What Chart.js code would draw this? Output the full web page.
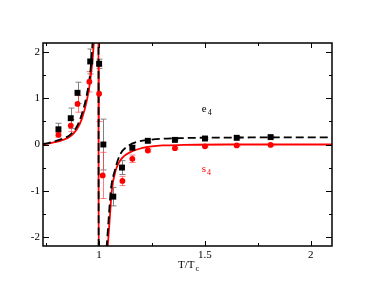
<!DOCTYPE html>
<html lang="en">
<head>
<meta charset="UTF-8">
<title>e4 / s4</title>
<script src="https://cdn.jsdelivr.net/npm/chart.js"></script>
<style>
    body { margin: 0; background: #fff; }
    canvas { display: block; }
</style>
</head>
<body>
<canvas id="chart" width="374" height="289"></canvas>
<script>
// ticks
const xMajor = [1, 1.5, 2];
const xMinor = [0.75, 1.25, 1.75];
const yMajor = [-2, -1, 0, 1, 2];
const yMinor = [-1.5, -0.5, 0.5, 1.5];

// e4 lattice points (black squares)
const e4X   = [0.808, 0.866, 0.898, 0.958, 1.0, 1.02, 1.067, 1.108, 1.157, 1.23, 1.358, 1.5, 1.65, 1.81];
const e4Y   = [0.33, 0.57, 1.12, 1.80, 1.75, 0.0, -1.13, -0.50, -0.07, 0.08, 0.10, 0.13, 0.145, 0.16];
const e4Err = [0.13, 0.22, 0.23, 0.27, 0.1, 0.55, 0.2, 0.15, 0.05, 0.03, 0.02, 0.02, 0.02, 0.02];

// s4 lattice points (red circles)
const s4X   = [0.808, 0.866, 0.898, 0.954, 1.0, 1.017, 1.11, 1.157, 1.23, 1.358, 1.5, 1.65, 1.81];
const s4Y   = [0.21, 0.41, 0.88, 1.36, 1.10, -0.67, -0.79, -0.31, -0.13, -0.08, -0.04, -0.02, -0.01];
const s4Err = [0.05, 0.13, 0.18, 0.22, 0.6, 0.5, 0.1, 0.08, 0.03, 0.02, 0.02, 0.02, 0.02];

// model curves
const e4CurveX = [0.735, 0.76, 0.79, 0.83, 0.863, 0.895, 0.918, 0.942, 0.958, 0.968, 0.975, 0.997, 0.998, 1.024, 1.036, 1.047, 1.055, 1.075, 1.099, 1.138, 1.185, 1.233, 1.3, 1.4, 1.5, 1.7, 1.9, 2.1];
const e4CurveY = [0.01, 0.03, 0.07, 0.13, 0.21, 0.39, 0.65, 1.08, 1.55, 2.13, 2.6, 3, -3, -3, -2.2, -1.49, -1.0, -0.55, -0.22, -0.03, 0.065, 0.10, 0.125, 0.14, 0.148, 0.152, 0.155, 0.155];
const s4CurveX = [0.735, 0.76, 0.79, 0.83, 0.863, 0.895, 0.918, 0.942, 0.958, 0.972, 0.98, 0.997, 0.998, 1.03, 1.041, 1.052, 1.06, 1.079, 1.107, 1.154, 1.201, 1.249, 1.3, 1.4, 1.6, 1.8, 2.1];
const s4CurveY = [0.0, 0.02, 0.05, 0.1, 0.17, 0.33, 0.55, 0.95, 1.38, 2.0, 2.6, 3, -3, -3, -2.2, -1.49, -1.0, -0.55, -0.3, -0.15, -0.08, -0.04, -0.02, -0.01, 0.0, 0.0, 0.0];

const FONT = "'Liberation Serif', 'DejaVu Serif', serif";
const pts = (xs, ys) => xs.map((x, i) => ({ x: x, y: ys[i] }));

// error bars, drawn under the markers
const errorBars = {
    id: "errorBars",
    beforeDatasetsDraw(chart) {
        const { ctx, chartArea, scales: { x, y } } = chart;
        ctx.save();
        ctx.beginPath();
        ctx.rect(chartArea.left, chartArea.top, chartArea.width, chartArea.height);
        ctx.clip();
        const bars = [[e4X, e4Y, e4Err, "#808080"], [s4X, s4Y, s4Err, "rgba(255,70,70,0.7)"]];
        bars.forEach(([xs, ys, es, col]) => {
            ctx.strokeStyle = col;
            ctx.lineWidth = 1;
            xs.forEach((v, i) => {
                const px = Math.round(x.getPixelForValue(v)) + 0.5;
                const top = y.getPixelForValue(ys[i] + es[i]);
                const bot = y.getPixelForValue(ys[i] - es[i]);
                ctx.beginPath();
                ctx.moveTo(px, top); ctx.lineTo(px, bot);
                ctx.moveTo(px - 3, top); ctx.lineTo(px + 3, top);
                ctx.moveTo(px - 3, bot); ctx.lineTo(px + 3, bot);
                ctx.stroke();
            });
        });
        ctx.restore();
    }
};

// frame, inward ticks, axis title and curve labels
const frame = {
    id: "frame",
    afterDraw(chart) {
        const { ctx, chartArea: a, scales: { x, y } } = chart;
        ctx.save();
        ctx.strokeStyle = "#000";
        ctx.lineWidth = 1.5;
        ctx.strokeRect(a.left, a.top, a.width, a.height);
        ctx.lineWidth = 1;
        ctx.beginPath();
        const tx = (v, len) => {
            const p = Math.round(x.getPixelForValue(v)) + 0.5;
            ctx.moveTo(p, a.bottom); ctx.lineTo(p, a.bottom - len);
            ctx.moveTo(p, a.top); ctx.lineTo(p, a.top + len);
        };
        const ty = (v, len) => {
            const p = Math.round(y.getPixelForValue(v)) + 0.5;
            ctx.moveTo(a.left, p); ctx.lineTo(a.left + len, p);
            ctx.moveTo(a.right, p); ctx.lineTo(a.right - len, p);
        };
        xMajor.forEach(v => tx(v, 5));
        xMinor.forEach(v => tx(v, 3));
        yMajor.forEach(v => ty(v, 6));
        yMinor.forEach(v => ty(v, 3));
        ctx.stroke();

        const sub = (main, s, px, py, col) => {
            ctx.fillStyle = col;
            ctx.textBaseline = "alphabetic";
            ctx.textAlign = "left";
            ctx.font = "11px " + FONT;
            ctx.fillText(main, px, py);
            const w = ctx.measureText(main).width;
            ctx.font = "8px " + FONT;
            ctx.fillText(s, px + w + 1, py + 3);
        };
        sub("T/T", "c", 178, 268, "#000");
        sub("e", "4", x.getPixelForValue(1.485), y.getPixelForValue(0.71), "#000");
        sub("s", "4", x.getPixelForValue(1.485), y.getPixelForValue(-0.6), "#ff0000");
        ctx.restore();
    }
};

new Chart(document.getElementById("chart"), {
    type: "scatter",
    data: {
        datasets: [
            {
                label: "e4", data: pts(e4X, e4Y), order: 1,
                pointStyle: "rect", pointRadius: 4.2, pointHoverRadius: 4.2,
                backgroundColor: "#000", borderColor: "#000", borderWidth: 0
            },
            {
                label: "s4", data: pts(s4X, s4Y), order: 2,
                pointStyle: "circle", pointRadius: 2.9, pointHoverRadius: 2.9,
                backgroundColor: "#ff0000", borderColor: "#ff0000", borderWidth: 0
            },
            {
                label: "e4 model", data: pts(e4CurveX, e4CurveY), order: 3,
                showLine: true, pointRadius: 0, borderColor: "#000", borderWidth: 1.8,
                borderDash: [8, 4], cubicInterpolationMode: "monotone"
            },
            {
                label: "s4 model", data: pts(s4CurveX, s4CurveY), order: 4,
                showLine: true, pointRadius: 0, borderColor: "#ff0000", borderWidth: 1.8,
                cubicInterpolationMode: "monotone"
            }
        ]
    },
    options: {
        responsive: false,
        devicePixelRatio: 1,
        animation: false,
        layout: { padding: { left: 0, right: 42, top: 43, bottom: 0 } },
        plugins: { legend: { display: false }, tooltip: { enabled: false } },
        scales: {
            x: {
                type: "linear", min: 0.735, max: 2.1,
                afterBuildTicks: s => { s.ticks = xMajor.map(v => ({ value: v })); },
                afterFit: s => { s.height = 43; },
                grid: { display: false, drawTicks: false },
                border: { display: false },
                ticks: { color: "#000", padding: 3, font: { family: FONT, size: 11 }, maxRotation: 0, callback: v => String(v) }
            },
            y: {
                type: "linear", min: -2.2, max: 2.2,
                afterBuildTicks: s => { s.ticks = yMajor.map(v => ({ value: v })); },
                afterFit: s => { s.width = 43; },
                grid: { display: false, drawTicks: false },
                border: { display: false },
                ticks: { color: "#000", padding: 3, font: { family: FONT, size: 11 }, callback: v => String(v) }
            }
        }
    },
    plugins: [errorBars, frame]
});
</script>
</body>
</html>
